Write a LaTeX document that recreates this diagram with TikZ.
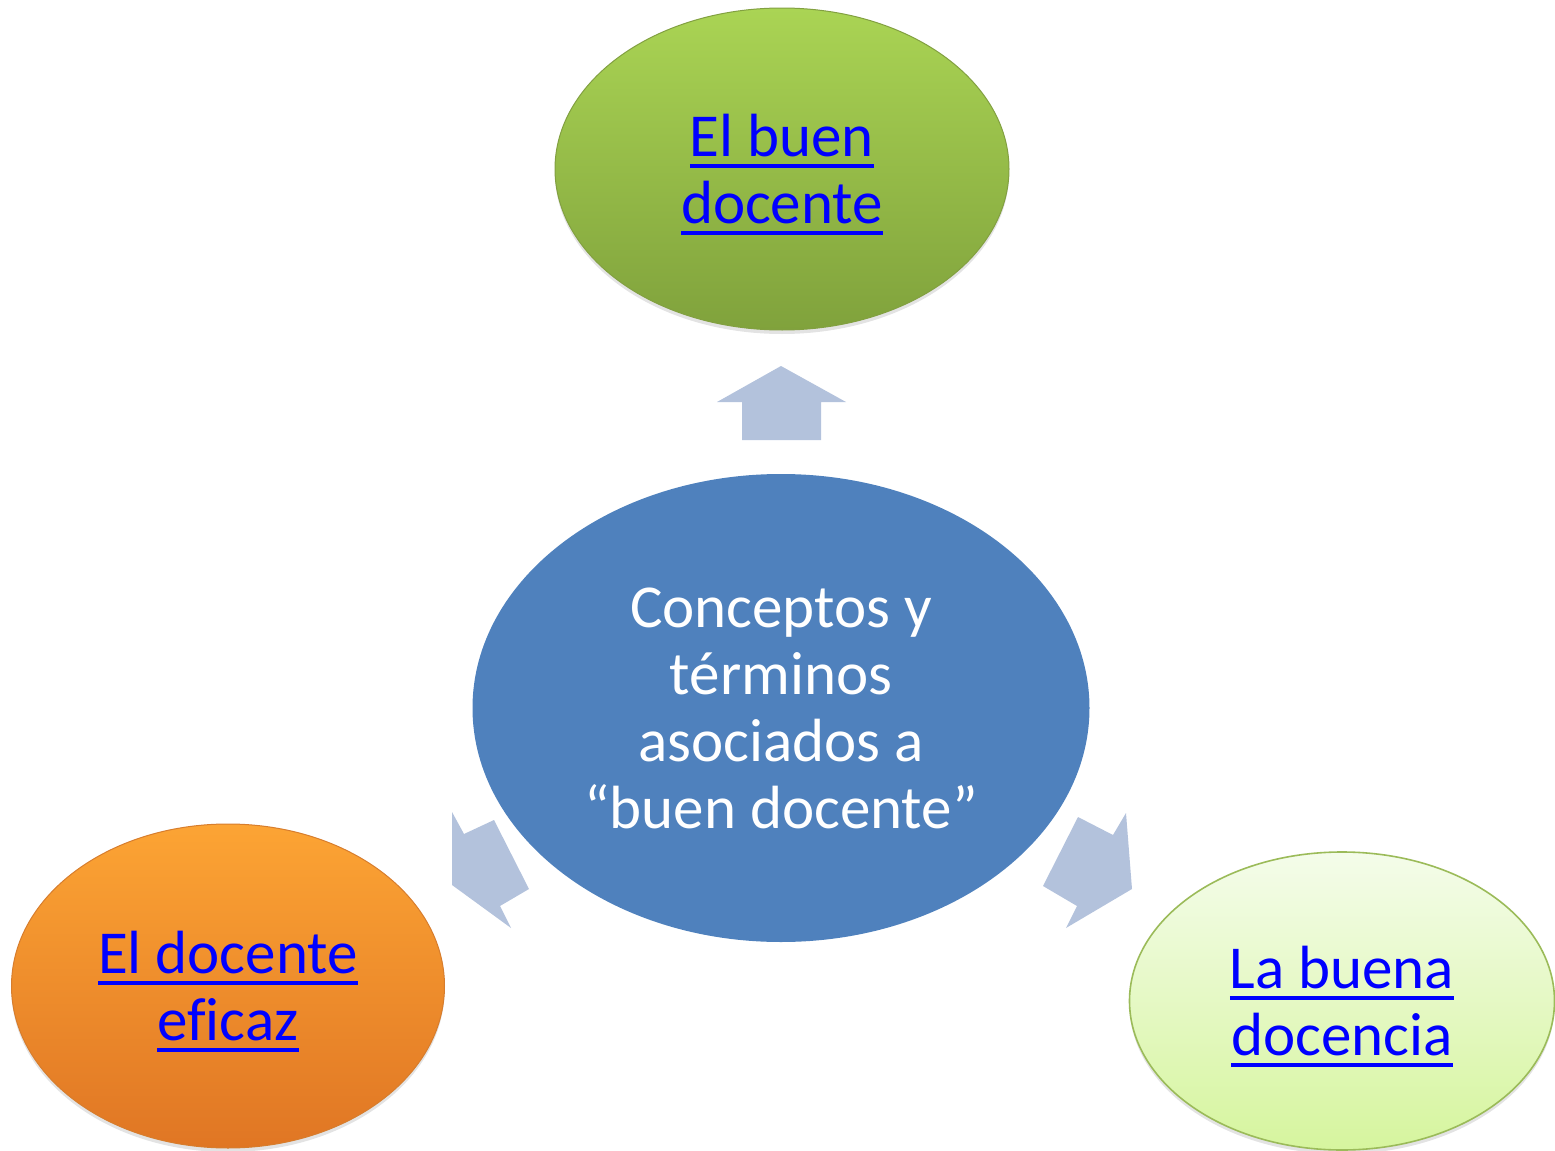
\documentclass[tikz,border=0pt]{standalone}
\usepackage{fontspec}
\setmainfont[Ligatures={NoCommon}]{Carlito}
\usetikzlibrary{shapes.geometric,shadows}
\definecolor{arrowfill}{RGB}{179,194,220}
\definecolor{centerblue}{RGB}{79,129,189}
\definecolor{gtop}{RGB}{170,212,84}
\definecolor{gbot}{RGB}{128,162,60}
\definecolor{gline}{RGB}{130,160,65}
\definecolor{otop}{RGB}{252,164,52}
\definecolor{obot}{RGB}{224,118,36}
\definecolor{oline}{RGB}{215,125,45}
\definecolor{ltop}{RGB}{244,252,234}
\definecolor{lbot}{RGB}{214,245,158}
\definecolor{lline}{RGB}{155,187,89}
\definecolor{linkblue}{RGB}{0,0,255}
\newcommand\lnk[1]{{\setbox0\hbox{#1}\rlap{\smash{\color{linkblue}\rule[-5.8pt]{\wd0}{1.9pt}}}\box0}}
\tikzset{
  bubble/.style={ellipse, inner sep=0pt, align=center, font=\fontsize{30.5}{33.5}\selectfont},
  shadowed/.style={drop shadow={opacity=0.22, shadow xshift=0pt, shadow yshift=-2pt}},
  linktext/.style={text=linkblue},
  blockarrow/.style={fill=arrowfill, draw=none}
}
\begin{document}
\begin{tikzpicture}[x=0.5pt, y=-0.5pt]
\useasboundingbox (0,0) rectangle (1555,1151);
% central ellipse
\node[bubble, fill=centerblue, text=white, minimum width=308.5pt, minimum height=234pt] (center) at (781,708)
  {Conceptos y\\términos\\asociados a\\“buen docente”};
% top
\node[bubble, shadowed, top color=gtop, bottom color=gbot, draw=gline, line width=0.5pt, linktext,
  minimum width=227pt, minimum height=161pt] (top) at (782,169)
  {\lnk{El buen}\\\lnk{docente}};
% left
\node[bubble, shadowed, top color=otop, bottom color=obot, draw=oline, line width=0.5pt, linktext,
  minimum width=216.5pt, minimum height=162pt] (left) at (228,986)
  {\lnk{El docente}\\\lnk{eficaz}};
% right
\node[bubble, shadowed, top color=ltop, bottom color=lbot, draw=lline, line width=0.8pt, linktext,
  minimum width=212.5pt, minimum height=149pt] (right) at (1342,1001)
  {\lnk{La buena}\\\lnk{docencia}};
% block arrows
\fill[blockarrow] (742,440) -- (742,402) -- (717,402) -- (781,366) -- (846,402) -- (821,402) -- (821,440) -- cycle;
\fill[blockarrow] (494,820) -- (464,834) -- (452,812) -- (452,885) -- (511,928) -- (500,906) -- (529,889) -- cycle;
\fill[blockarrow] (1078,817) -- (1113,835) -- (1126,813) -- (1132,889) -- (1066,928) -- (1077,906) -- (1043,886) -- cycle;
\end{tikzpicture}
\end{document}
